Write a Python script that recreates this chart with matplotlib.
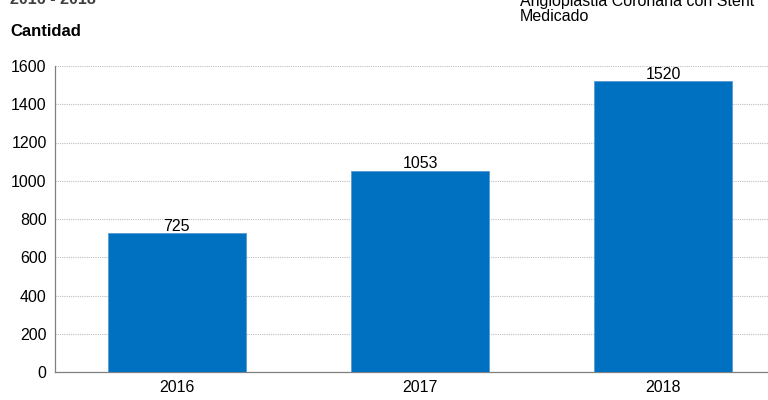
import matplotlib.pyplot as plt

years = ["2016", "2017", "2018"]
counts = [725, 1053, 1520]
yticks = [0, 200, 400, 600, 800, 1000, 1200, 1400, 1600]

plt.rcParams['font.family'] = ['Liberation Sans', 'DejaVu Sans']

fig = plt.figure(figsize=(7.68, 4.0), dpi=100)
ax = fig.add_axes([0.0716, 0.07, 0.9284, 0.765])

x = range(len(years))
bars = ax.bar(x, counts, width=0.567, color='#0070C0', edgecolor='#5B9BD5', linewidth=0.6, zorder=3)
for xi, v in zip(x, counts):
    ax.text(xi, v - 4, str(v), ha='center', va='bottom', fontsize=11.5, color='#000000', zorder=4)

ax.set_xticks(list(x))
ax.set_xticklabels(years, fontsize=11.5)
ax.set_yticks(yticks)
ax.set_yticklabels([str(t) for t in yticks], fontsize=11.5)
ax.set_ylim(0, 1600)
ax.set_xlim(-0.5, 2.43)
ax.tick_params(length=0, pad=6)
ax.yaxis.grid(True, linestyle=(0, (1, 1)), color='#BFBFBF', linewidth=0.8, zorder=0)
for s in ['top', 'right']:
    ax.spines[s].set_visible(False)
for s in ['left', 'bottom']:
    ax.spines[s].set_color('#808080')
    ax.spines[s].set_linewidth(0.9)

fig.text(10 / 768, 1 - 32 / 400, "Cantidad", fontsize=12, fontweight='bold', va='center', ha='left')
fig.text(10 / 768, 1 + 1 / 400, "2016 - 2018", fontsize=11.5, fontweight='bold', color='#404040', va='center', ha='left')
fig.text(520 / 768, 1 - 9 / 400, "Angioplastia Coronaria con Stent\nMedicado", fontsize=11.5,
         va='center', ha='left', linespacing=0.95)

fig.savefig("out.png", dpi=100)
